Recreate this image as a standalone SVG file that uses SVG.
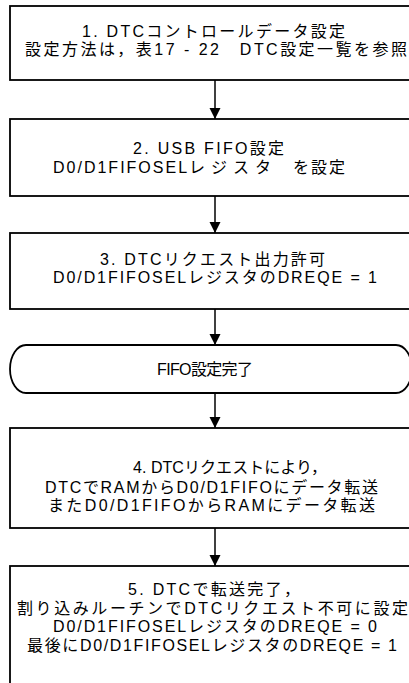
<svg xmlns="http://www.w3.org/2000/svg" width="409" height="683" viewBox="0 0 409 683">
<defs>
<marker id="ah" markerWidth="11" markerHeight="12" refX="11" refY="5.5" orient="auto" markerUnits="userSpaceOnUse">
<path d="M0,0 L11,5.5 L0,11 Z" fill="#000"/>
</marker>
<style>
.box{fill:#fff;stroke:#000;stroke-width:1.8}
.t{font-family:"Liberation Sans","Noto Sans CJK JP",sans-serif;font-size:16px;fill:#000}
.c{stroke:#000;stroke-width:1.5;fill:none}
</style>
</defs>
<rect width="409" height="683" fill="#fff"/>
<g id="connectors">
<line class="c" x1="215" y1="80" x2="215" y2="119" marker-end="url(#ah)"/>
<line class="c" x1="215" y1="196" x2="215" y2="233" marker-end="url(#ah)"/>
<line class="c" x1="215" y1="309" x2="215" y2="345" marker-end="url(#ah)"/>
<line class="c" x1="215" y1="393" x2="215" y2="428" marker-end="url(#ah)"/>
<line class="c" x1="215" y1="528" x2="215" y2="566" marker-end="url(#ah)"/>
</g>
<g id="n1">
<rect class="box" x="10" y="6" width="410" height="74"/>
<text class="t" x="82" y="37" textLength="263" lengthAdjust="spacing">1. DTCコントロールデータ設定</text>
<text class="t" x="25" y="55" textLength="382" lengthAdjust="spacing">設定方法は，表17 - 22　DTC設定一覧を参照</text>
</g>
<g id="n2">
<rect class="box" x="10" y="119" width="410" height="77"/>
<text class="t" x="133" y="154" textLength="151" lengthAdjust="spacing">2. USB FIFO設定</text>
<text class="t" x="53" y="173"><tspan style="letter-spacing:2px">D0/D1FIFOSEL</tspan><tspan style="letter-spacing:6px">レジスタ</tspan><tspan dx="16" style="letter-spacing:2px">を設定</tspan></text>
</g>
<g id="n3">
<rect class="box" x="10" y="233" width="410" height="76"/>
<text class="t" x="100" y="265" textLength="225" lengthAdjust="spacing">3. DTCリクエスト出力許可</text>
<text class="t" x="53" y="283" textLength="324" lengthAdjust="spacing">D0/D1FIFOSELレジスタのDREQE = 1</text>
</g>
<g id="n_end">
<path class="box" d="M26,345 L396,345 A16,24 0 0 1 396,393 L26,393 A16,24 0 0 1 26,345 Z"/>
<text class="t" x="157" y="375" textLength="96" lengthAdjust="spacing">FIFO設定完了</text>
</g>
<g id="n4">
<rect class="box" x="10" y="428" width="410" height="100"/>
<text class="t" x="133" y="473" textLength="194" lengthAdjust="spacing">4. DTCリクエストにより，</text>
<text class="t" x="45" y="493" textLength="333" lengthAdjust="spacing">DTCでRAMからD0/D1FIFOにデータ転送</text>
<text class="t" x="48" y="511" textLength="327" lengthAdjust="spacing">またD0/D1FIFOからRAMにデータ転送</text>
</g>
<g id="n5">
<rect class="box" x="10" y="566" width="410" height="140"/>
<text class="t" x="128" y="595" textLength="172" lengthAdjust="spacing">5. DTCで転送完了，</text>
<text class="t" x="17" y="614" textLength="391" lengthAdjust="spacing">割り込みルーチンでDTCリクエスト不可に設定</text>
<text class="t" x="53" y="632" textLength="324" lengthAdjust="spacing">D0/D1FIFOSELレジスタのDREQE = 0</text>
<text class="t" x="27" y="651" textLength="370" lengthAdjust="spacing">最後にD0/D1FIFOSELレジスタのDREQE = 1</text>
</g>
</svg>
